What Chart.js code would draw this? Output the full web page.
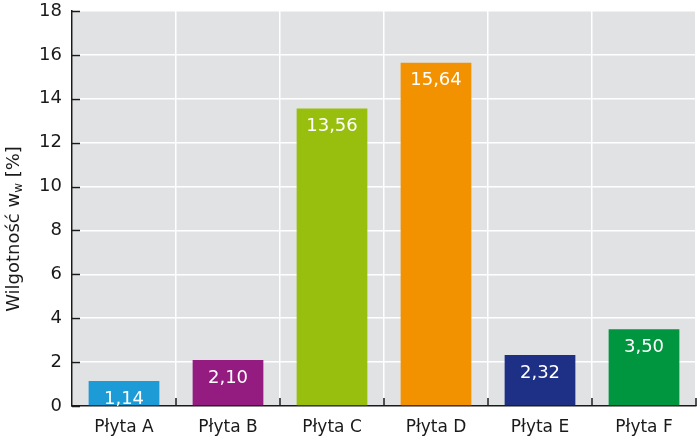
<!DOCTYPE html>
<html>
<head>
<meta charset="utf-8">
<script src="https://cdn.jsdelivr.net/npm/chart.js@4.4.1/dist/chart.umd.min.js"></script>
<style>
  html, body { margin: 0; padding: 0; background: #fff; }
  canvas { display: block; }
</style>
</head>
<body>
<canvas id="chart" width="700" height="448"></canvas>
<script>
// --- data ---
const categories = ['Płyta A', 'Płyta B', 'Płyta C', 'Płyta D', 'Płyta E', 'Płyta F'];
const moisture = [1.14, 2.10, 13.56, 15.64, 2.32, 3.50];
const barColors = ['#1d9bd7', '#941b80', '#98bf0e', '#f39200', '#1e2f86', '#00963f'];
const yTicks = [0, 2, 4, 6, 8, 10, 12, 14, 16, 18];

const FONT = "'DejaVu Sans', sans-serif";
const INK = '#1a1a1a';

// grey plot background
const plotBackground = {
    id: 'plotBackground',
    beforeDraw(chart) {
        const { ctx, chartArea: a } = chart;
        ctx.save();
        ctx.fillStyle = '#e1e2e4';
        ctx.fillRect(a.left, a.top, a.right - a.left, a.bottom - a.top);
        ctx.restore();
    }
};

// inside tick marks on both axes
const innerTicks = {
    id: 'innerTicks',
    afterDraw(chart) {
        const { ctx, chartArea: a, scales } = chart;
        ctx.save();
        ctx.strokeStyle = INK;
        ctx.lineWidth = 1.5;
        ctx.beginPath();
        yTicks.forEach(v => {
            const y = Math.round(scales.y.getPixelForValue(v)) + 0.5;
            ctx.moveTo(a.left, y);
            ctx.lineTo(a.left + 8, y);
        });
        for (let i = 1; i <= categories.length; i++) {
            const x = (scales.x.getPixelForValue(i - 1) + scales.x.getPixelForValue(Math.min(i, categories.length - 1))) / 2;
            const xb = i === categories.length ? a.right : x;
            ctx.moveTo(xb, a.bottom);
            ctx.lineTo(xb, a.bottom - 8);
        }
        ctx.stroke();
        ctx.restore();
    }
};

// value labels inside the top of each bar
const barLabels = {
    id: 'barLabels',
    afterDatasetsDraw(chart) {
        const { ctx } = chart;
        const meta = chart.getDatasetMeta(0);
        ctx.save();
        ctx.fillStyle = '#ffffff';
        ctx.font = '18px ' + FONT;
        ctx.textAlign = 'center';
        ctx.textBaseline = 'middle';
        meta.data.forEach((bar, i) => {
            const txt = moisture[i].toFixed(2).replace('.', ',');
            ctx.fillText(txt, bar.x, bar.y + 18);
        });
        ctx.restore();
    }
};

// rotated y title with subscript "w"
const yTitle = {
    id: 'yTitle',
    afterDraw(chart) {
        const { ctx } = chart;
        const main = 'Wilgotność w';
        const sub = 'w';
        const tail = ' [%]';
        ctx.save();
        ctx.translate(14, 229);
        ctx.rotate(-Math.PI / 2);
        ctx.fillStyle = INK;
        ctx.textBaseline = 'middle';
        ctx.font = '18px ' + FONT;
        const w1 = ctx.measureText(main).width;
        const w3 = ctx.measureText(tail).width;
        ctx.font = '12px ' + FONT;
        const w2 = ctx.measureText(sub).width;
        let x = -(w1 + w2 + w3) / 2;
        ctx.font = '18px ' + FONT;
        ctx.fillText(main, x, 0);
        x += w1;
        ctx.font = '12px ' + FONT;
        ctx.fillText(sub, x, 5);
        x += w2;
        ctx.font = '18px ' + FONT;
        ctx.fillText(tail, x, 0);
        ctx.restore();
    }
};

new Chart(document.getElementById('chart'), {
    type: 'bar',
    data: {
        labels: categories,
        datasets: [{
            data: moisture,
            backgroundColor: barColors,
            borderWidth: 0,
            barPercentage: 0.68,
            categoryPercentage: 1
        }]
    },
    options: {
        responsive: false,
        animation: false,
        events: [],
        layout: { padding: { top: 11, right: 4, left: 0, bottom: 0 } },
        plugins: {
            legend: { display: false },
            tooltip: { enabled: false }
        },
        scales: {
            x: {
                grid: { color: '#ffffff', lineWidth: 1.5, drawTicks: false, offset: true },
                border: { display: true, color: INK, width: 1.5 },
                ticks: { color: INK, font: { family: FONT, size: 17 }, padding: 11 },
                afterFit(scale) { scale.height = 42; }
            },
            y: {
                min: 0,
                max: 18,
                afterBuildTicks(scale) { scale.ticks = yTicks.map(v => ({ value: v })); },
                grid: { color: '#ffffff', lineWidth: 1.5, drawTicks: false },
                border: { display: true, color: INK, width: 1.5 },
                ticks: { color: INK, font: { family: FONT, size: 18 }, padding: 10 },
                afterFit(scale) {
                    scale.width = 72;
                    scale.paddingTop = 0;
                    scale.paddingBottom = 0;
                }
            }
        }
    },
    plugins: [plotBackground, barLabels, innerTicks, yTitle]
});
</script>
</body>
</html>
